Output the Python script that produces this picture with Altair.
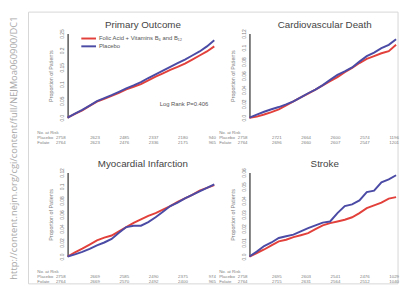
import altair as alt
import pandas as pd

# ---------------- data ----------------
years = [0, 0.25, 0.5, 0.75, 1, 1.25, 1.5, 1.75, 2, 2.25, 2.5, 2.75,
         3, 3.25, 3.5, 3.75, 4, 4.25, 4.5, 4.75, 5]
groups = ["Folic Acid + Vitamins B\u2086 and B\u2081\u2082", "Placebo"]
colors = ["#e2413b", "#4b4ba6"]

primary_folate = [0, 0.011, 0.022, 0.035, 0.048, 0.056, 0.065, 0.074, 0.084, 0.092, 0.100,
                  0.111, 0.122, 0.132, 0.142, 0.151, 0.161, 0.173, 0.185, 0.197, 0.212]
primary_placebo = [0, 0.012, 0.023, 0.036, 0.049, 0.058, 0.067, 0.077, 0.087, 0.096, 0.106,
                   0.118, 0.129, 0.140, 0.151, 0.162, 0.173, 0.185, 0.197, 0.212, 0.230]

cv_folate = [0, 0.0015, 0.0045, 0.008, 0.012, 0.0175, 0.0234, 0.029, 0.0345, 0.040, 0.046,
             0.052, 0.058, 0.065, 0.071, 0.078, 0.084, 0.088, 0.092, 0.095, 0.104]
cv_placebo = [0, 0.0045, 0.0085, 0.012, 0.0152, 0.019, 0.0234, 0.029, 0.0349, 0.040, 0.0465,
              0.054, 0.061, 0.066, 0.0717, 0.080, 0.0878, 0.093, 0.0993, 0.104, 0.112]

mi_folate = [0, 0.006, 0.0113, 0.017, 0.023, 0.027, 0.030, 0.036, 0.042, 0.048, 0.053,
             0.058, 0.062, 0.067, 0.072, 0.078, 0.083, 0.088, 0.094, 0.098, 0.102]
mi_placebo = [0, 0.003, 0.0066, 0.011, 0.016, 0.020, 0.025, 0.034, 0.042, 0.044, 0.044,
              0.049, 0.056, 0.064, 0.072, 0.077, 0.083, 0.088, 0.093, 0.098, 0.103]

stroke_folate = [0, 0.0025, 0.005, 0.008, 0.0108, 0.012, 0.0138, 0.0152, 0.0167, 0.0195, 0.0222,
                 0.0238, 0.025, 0.0262, 0.028, 0.031, 0.0345, 0.0365, 0.0385, 0.0413, 0.0424]
stroke_placebo = [0, 0.0035, 0.0075, 0.010, 0.0132, 0.0145, 0.0156, 0.018, 0.0202, 0.0222, 0.0242,
                  0.025, 0.031, 0.036, 0.0372, 0.040, 0.046, 0.047, 0.053, 0.055, 0.058]

risk_years = [0, 1, 2, 3, 4, 5]
primary_risk_placebo = [2758, 2623, 2485, 2337, 2180, 940]
primary_risk_folate = [2764, 2623, 2476, 2336, 2175, 965]
cv_risk_placebo = [2758, 2721, 2664, 2600, 2574, 1196]
cv_risk_folate = [2764, 2696, 2660, 2607, 2547, 1201]
mi_risk_placebo = [2758, 2669, 2585, 2490, 2375, 974]
mi_risk_folate = [2764, 2669, 2570, 2492, 2400, 965]
stroke_risk_placebo = [2758, 2695, 2603, 2541, 2476, 1029]
stroke_risk_folate = [2764, 2715, 2631, 2564, 2512, 1040]

primary_ticks = [0, 0.05, 0.1, 0.15, 0.2, 0.25]
cv_ticks = [0, 0.02, 0.04, 0.06, 0.08, 0.1, 0.12]
mi_ticks = [0, 0.02, 0.04, 0.06, 0.08, 0.1, 0.12]
stroke_ticks = [0, 0.01, 0.02, 0.03, 0.04, 0.05, 0.06]

titles = ["Primary Outcome", "Cardiovascular Death", "Myocardial Infarction", "Stroke"]
url_text = "http://content.nejm.org/cgi/content/full/NEJMoa060900/DC1"
logrank_text = "Log Rank P=0.406"

# ---------------- styling ----------------
FONT = "Liberation Sans"
W, H = 150, 86
TXT = "#808080"
AXC = "#555555"
color_scale = alt.Scale(domain=groups, range=colors)


def panel(title, fol, pla, ymax, yticks, rpla, rfol, extras=None):
    n = len(years)
    df = pd.DataFrame({"year": years * 2, "value": fol + pla,
                       "group": [groups[0]] * n + [groups[1]] * n})
    lines = alt.Chart(df).mark_line(strokeWidth=2).encode(
        x=alt.X("year:Q", scale=alt.Scale(domain=[0, 5], nice=False),
                axis=alt.Axis(values=[0, 1, 2, 3, 4, 5], title="Years", ticks=False, grid=False,
                              domainColor=AXC, domainWidth=1.5, labelFontSize=6, labelColor=TXT,
                              labelPadding=5, titleFontSize=5.5, titleColor=TXT,
                              titleFontWeight="bold", titlePadding=2, labelFlush=False)),
        y=alt.Y("value:Q", scale=alt.Scale(domain=[0, ymax], nice=False),
                axis=alt.Axis(values=yticks, title="Proportion of Patients", ticks=False, grid=False,
                              domainColor=AXC, domainWidth=1.5, labelFontSize=5, labelColor=TXT,
                              labelAngle=270, labelAlign="center", labelBaseline="bottom",
                              labelPadding=3, labelFlush=False,
                              labelExpr="datum.value == 0 ? '0.0' : format(datum.value, '.2~f')",
                              titleFontSize=5.5, titleColor=TXT, titleFontWeight="normal",
                              titlePadding=6)),
        color=alt.Color("group:N", scale=color_scale, legend=None),
    )
    rdf = pd.DataFrame({"year": risk_years, "placebo": rpla, "folate": rfol})
    rb = alt.Chart(rdf)
    xs = alt.X("year:Q", axis=None)
    layers = [lines]
    for field, dy in (("placebo", H + 21), ("folate", H + 26)):
        layers.append(rb.transform_filter("datum.year > 0").mark_text(
            fontSize=4.5, color=TXT, dx=-2).encode(
            x=xs, y=alt.value(dy), text=alt.Text(f"{field}:Q", format="d")))
        layers.append(rb.transform_filter("datum.year == 0").mark_text(
            fontSize=4.5, color=TXT, align="right", dx=-2).encode(
            x=xs, y=alt.value(dy), text=alt.Text(f"{field}:Q", format="d")))
    lab = pd.DataFrame({"t": ["No. at Risk", "Placebo", "Folate"], "dy": [H + 16, H + 21, H + 26]})
    layers.append(alt.Chart(lab).mark_text(fontSize=4.5, color=TXT, align="left").encode(
        x=alt.value(-31), y=alt.Y("dy:Q", scale=None), text="t:N"))
    layers.append(alt.Chart(pd.DataFrame({"t": [title]})).mark_text(
        fontSize=10, color="#444", baseline="middle").encode(
        x=alt.value(W / 2 + 2), y=alt.value(-9), text="t:N"))
    if extras:
        layers.extend(extras)
    return alt.layer(*layers).properties(width=W, height=H)


# legend (colours through the shared colour scale)
legend_layers = []
for g, ly in zip(groups, (5, 13)):
    gdf = pd.DataFrame({"group": [g]})
    legend_layers.append(alt.Chart(gdf).mark_rule(strokeWidth=2).encode(
        x=alt.value(14), x2=alt.value(29), y=alt.value(ly),
        color=alt.Color("group:N", scale=color_scale, legend=None)))
    legend_layers.append(alt.Chart(gdf).mark_text(
        fontSize=6, color="#555", align="left", baseline="middle").encode(
        x=alt.value(32), y=alt.value(ly), text="group:N"))

url = alt.Chart(pd.DataFrame({"t": [url_text]})).mark_text(
    angle=270, fontSize=9.6, color="#a8a8a8", font="Open Sans").encode(
    x=alt.value(-55), y=alt.value(117), text="t:N")
lr = alt.Chart(pd.DataFrame({"t": [logrank_text]})).mark_text(
    align="right", fontSize=6, color="#555").encode(x=alt.value(144), y=alt.value(72), text="t:N")
frame = alt.Chart(pd.DataFrame({"t": [0]})).mark_rect(
    fill="transparent", stroke="#d6d6d6", strokeWidth=1).encode(
    x=alt.value(-40), x2=alt.value(338), y=alt.value(-22), y2=alt.value(256))

tl = panel(titles[0], primary_folate, primary_placebo, 0.25, primary_ticks,
           primary_risk_placebo, primary_risk_folate, extras=[lr, url, frame] + legend_layers)
tr = panel(titles[1], cv_folate, cv_placebo, 0.12, cv_ticks,
           cv_risk_placebo, cv_risk_folate)
bl = panel(titles[2], mi_folate, mi_placebo, 0.12, mi_ticks,
           mi_risk_placebo, mi_risk_folate)
br = panel(titles[3], stroke_folate, stroke_placebo, 0.06, stroke_ticks,
           stroke_risk_placebo, stroke_risk_folate)

chart = alt.concat(tl, tr, bl, br, columns=2, spacing={"row": 56, "column": 36},
                   bounds="flush").properties(padding=0).configure(
    font=FONT).configure_view(strokeWidth=0)

chart.save("out.html", embed_options={"renderer": "svg", "actions": False})
